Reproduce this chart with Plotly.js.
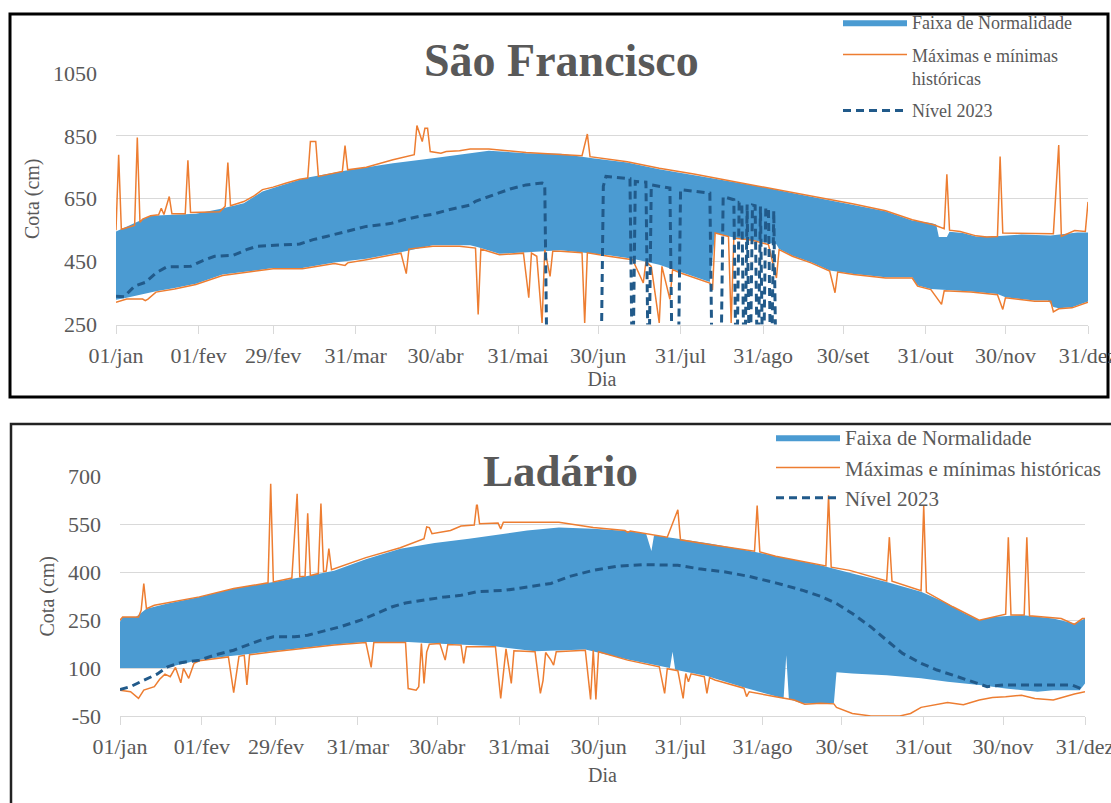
<!DOCTYPE html>
<html>
<head>
<meta charset="utf-8">
<script src="https://cdn.plot.ly/plotly-3.0.1.min.js"></script>
<style>
html,body{margin:0;padding:0;background:#ffffff;}
#chart{width:1111px;height:803px;}
</style>
</head>
<body>
<div id="chart"></div>
<script>
// ---- Axis ticks (day of year, leap year) ----
const tickDays = [1,32,60,91,121,152,182,213,244,274,305,335,366];
const tickLabels = ['01/jan','01/fev','29/fev','31/mar','30/abr','31/mai','30/jun','31/jul','31/ago','30/set','31/out','30/nov','31/dez'];
const sfYTicks = [250,450,650,850,1050];
const ldYTicks = [-50,100,250,400,550,700];

// ---- São Francisco ----
const sfBandHighDay = [1,3,14,31,40,49,56,60,72,89,105,120,134,141,155,168,180,193,205,218,230,243,255,269,278,290,300,307,309,310,313,314,319,324,330,341,352,362,366];
const sfBandHigh    = [546,554,596,602,617,636,673,684,716,742,763,779,795,803,795,793,779,765,744,726,708,689,668,645,631,610,581,573,568,528,528,545,541,530,530,536,533,543,543];
const sfBandLowDay  = [1,5,16,23,31,41,51,60,71,83,95,108,120,134,137,145,154,168,186,195,205,213,224,226,231,240,246,249,250,255,262,269,278,290,300,302,307,322,332,335,346,351,353,355,360,366];
const sfBandLow     = [329,335,356,366,380,409,419,430,430,447,459,480,502,502,496,475,479,486,470,459,440,417,385,541,530,518,509,505,490,469,448,422,411,400,400,374,363,355,347,337,326,326,306,302,305,323];
const sfMaxDay = [1,2,3,8,9,10,11,14,17,18,19,21,22,27,28,29,40,42,43,44,49,53,56,60,65,70,73,74,76,77,86,87,88,95,105,113,114,116,117,118,119,123,125,130,134,141,155,176,178,179,193,205,218,230,243,255,269,278,290,300,308,312,313,314,318,324,328,332,333,334,353,355,356,361,365,366];
const sfMax    = [550,790,553,565,845,575,585,596,599,620,600,657,602,602,772,606,609,626,765,628,641,660,679,687,700,712,716,832,832,721,737,819,742,750,774,790,883,832,874,874,800,795,800,803,808,808,797,787,856,784,768,747,729,710,689,670,647,633,612,583,567,555,728,550,546,532,528,530,784,541,539,821,530,549,546,640];
const sfMinDay = [1,5,11,12,13,16,23,31,41,51,60,71,83,87,88,95,108,110,111,120,130,136,137,138,145,154,156,157,159,161,162,164,165,168,176,177,178,186,195,199,200,202,205,206,209,210,213,224,225,226,231,232,233,240,246,249,250,255,262,269,271,272,278,290,300,302,307,311,312,322,332,334,335,346,352,353,355,360,366];
const sfMin    = [321,331,331,326,331,353,363,377,406,416,427,427,444,438,446,456,477,412,490,499,499,493,282,490,472,477,335,477,467,255,488,403,483,483,478,255,478,467,456,382,450,435,255,435,330,425,414,382,360,541,530,255,525,518,504,398,488,467,446,420,351,417,409,398,398,372,361,314,357,353,345,298,335,324,324,290,300,303,321];
const sfLevelDay = [1,4,8,12,16,20,29,33,38,45,50,54,70,75,80,88,95,104,109,115,120,126,134,136,143,149,155,161,162,163,183,184,185,191,194,195,196,200,201,202,209,210,212,213,224,225,228,229,233,234,235,236,237,238,239,240,241,242,243,244,245,246,247,248,249];
const sfLevel    = [340,338,372,384,414,433,435,451,467,470,488,499,506,520,530,546,562,571,583,594,601,615,630,642,663,681,694,700,697,0,0,690,721,716,714,0,705,703,0,694,684,0,0,679,668,0,0,657,647,0,638,636,0,632,0,630,628,0,625,0,622,618,0,612,0];

// ---- Ladário ----
const ldBandHighDay = [1,2,7,11,19,31,44,57,69,82,94,107,120,133,142,155,167,180,193,200,202,203,212,224,237,249,262,266,278,291,304,314,320,326,331,342,354,362,366];
const ldBandHigh    = [245,260,260,286,302,323,349,366,384,405,441,474,492,505,516,531,540,536,529,521,467,516,505,490,471,450,429,422,396,370,339,302,273,250,260,266,255,240,255];
const ldBandLowDay  = [1,18,31,42,59,69,82,94,110,120,130,142,158,177,193,205,209,210,211,223,237,249,252,253,254,259,271,272,278,291,304,314,326,336,348,354,364,366];
const ldBandLow     = [100,100,125,137,153,163,174,182,182,177,174,169,153,158,127,106,100,151,95,75,39,12,5,140,3,-11,-11,87,83,78,68,57,47,36,26,31,31,52];
const ldMaxDay = [1,2,8,9,10,11,14,31,44,57,58,59,66,68,69,71,72,73,76,77,78,79,80,81,94,107,116,117,118,119,126,130,135,136,137,144,145,146,167,180,192,193,194,208,212,213,224,237,241,242,243,249,262,268,269,270,277,291,292,293,304,305,306,316,326,331,336,337,338,343,344,345,352,357,362,365,366];
const ldMax    = [250,260,260,281,365,286,297,323,349,367,677,370,382,646,386,388,585,390,396,615,402,404,474,408,446,477,505,542,540,521,531,545,548,620,552,554,536,557,557,540,531,525,529,510,596,502,487,471,466,609,464,450,429,420,641,416,406,373,510,372,342,609,338,292,250,260,269,510,266,266,510,264,260,255,237,255,255];
const ldMinDay = [1,5,8,10,14,16,18,20,22,24,25,27,29,31,42,44,46,48,49,50,59,69,82,94,96,97,109,110,113,114,115,116,117,118,122,124,125,130,131,132,143,145,147,149,150,158,160,161,162,164,165,166,177,179,180,181,182,193,205,207,208,212,214,215,216,217,222,223,224,226,237,238,239,249,256,260,266,271,272,278,285,296,300,304,307,314,320,326,331,336,342,347,354,362,366];
const ldMin    = [31,26,5,31,42,65,81,73,102,54,99,68,115,123,135,23,137,140,47,142,151,161,172,180,102,180,180,36,31,42,177,52,150,175,177,125,174,172,115,167,167,5,160,52,154,151,21,61,149,125,109,151,156,2,156,2,151,125,104,21,98,92,5,83,57,82,73,21,70,63,37,11,26,10,0,-13,-10,-12,-23,-42,-50,-50,-42,-23,-19,-8,-15,0,8,10,15,5,0,19,26];
const ldLevelDay = [1,5,10,15,19,24,31,37,44,49,54,59,67,72,79,85,92,98,104,109,115,119,124,130,136,147,155,164,171,180,189,199,212,220,230,239,249,259,266,272,278,285,291,297,304,310,316,322,329,335,342,354,361,366];
const ldLevel    = [33,42,62,81,104,117,125,141,156,172,187,198,198,203,219,231,250,271,292,304,312,318,323,328,339,344,354,365,387,406,419,424,422,411,401,387,367,344,325,302,271,229,187,146,115,94,78,62,42,47,47,47,47,31];

// ---- Style ----
const BLUE = '#4b9bd2', ORANGE = '#ed7d31', NAVY = '#215a8a', GRAY = '#595959', GRID = '#d9d9d9';
const SERIF = 'Liberation Serif, Times New Roman, serif';
const W = 1111, H = 803;
const px = v => v / W, py = v => 1 - v / H;

function bandTraces(lowD, low, highD, high, xa, ya, lg, grp) {
  return [
    {x: lowD, y: low, xaxis: xa, yaxis: ya, mode: 'lines', line: {width: 0, color: BLUE},
     showlegend: false, hoverinfo: 'skip', legend: lg, legendgroup: grp},
    {x: highD, y: high, xaxis: xa, yaxis: ya, mode: 'lines', line: {width: 0, color: BLUE},
     fill: 'tonexty', fillcolor: BLUE, name: 'Faixa de Normalidade', legend: lg, legendgroup: grp,
     hoverinfo: 'skip'}
  ];
}
function lineTrace(d, v, xa, ya, lg, grp, name, show, color, width, dash) {
  return {x: d, y: v, xaxis: xa, yaxis: ya, mode: 'lines', name: name, legend: lg, legendgroup: grp,
          showlegend: show, line: {color: color, width: width, dash: dash || 'solid'}, hoverinfo: 'skip'};
}

const data = [
  ...bandTraces(sfBandLowDay, sfBandLow, sfBandHighDay, sfBandHigh, 'x', 'y', 'legend', 'sfBand'),
  lineTrace(sfMaxDay, sfMax, 'x', 'y', 'legend', 'sfHist', 'Máximas e mínimas<br>históricas', true, ORANGE, 1.5),
  lineTrace(sfMinDay, sfMin, 'x', 'y', 'legend', 'sfHist', 'Mínimas', false, ORANGE, 1.5),
  lineTrace(sfLevelDay, sfLevel, 'x', 'y', 'legend', 'sfLevel', 'Nível 2023', true, NAVY, 3, '8px,5px'),
  ...bandTraces(ldBandLowDay, ldBandLow, ldBandHighDay, ldBandHigh, 'x2', 'y2', 'legend2', 'ldBand'),
  lineTrace(ldMaxDay, ldMax, 'x2', 'y2', 'legend2', 'ldHist', 'Máximas e mínimas históricas', true, ORANGE, 1.5),
  lineTrace(ldMinDay, ldMin, 'x2', 'y2', 'legend2', 'ldHist', 'Mínimas', false, ORANGE, 1.5),
  lineTrace(ldLevelDay, ldLevel, 'x2', 'y2', 'legend2', 'ldLevel', 'Nível 2023', true, NAVY, 3, '8px,5px')
];

const tickFont = {family: SERIF, size: 22, color: GRAY};
function xAxis(dom, anchor, standoff) {
  return {domain: dom, anchor: anchor, range: [1, 366], tickmode: 'array', tickvals: tickDays, ticktext: tickLabels,
          showgrid: false, zeroline: false, showline: true, linecolor: GRID, linewidth: 1,
          ticks: 'outside', ticklen: 8, tickcolor: GRID, tickfont: tickFont, ticklabelstandoff: 3,
          ticklabeloverflow: 'allow',
          title: {text: 'Dia', font: {family: SERIF, size: 20, color: GRAY}, standoff: standoff}, fixedrange: true};
}
function yAxis(dom, anchor, range, ticks) {
  return {domain: dom, anchor: anchor, range: range, tickmode: 'array', tickvals: ticks, ticktext: ticks.map(String),
          showgrid: true, gridcolor: GRID, gridwidth: 1, zeroline: false, showline: false, ticks: '',
          tickfont: tickFont, ticklabelstandoff: 18,
          title: {text: 'Cota (cm)', font: {family: SERIF, size: 20, color: GRAY}, standoff: 8}, fixedrange: true};
}

const layout = {
  width: W, height: H, margin: {l: 0, r: 0, t: 0, b: 0}, autosize: false,
  paper_bgcolor: '#ffffff', plot_bgcolor: '#ffffff',
  font: {family: SERIF, color: GRAY},
  showlegend: true,
  xaxis: xAxis([px(116), px(1088)], 'y', 5),
  yaxis: yAxis([py(324.5), py(73)], 'x', [250, 1050], sfYTicks),
  xaxis2: xAxis([px(120), px(1085)], 'y2', 9),
  yaxis2: yAxis([py(716), py(476.5)], 'x2', [-50, 700], ldYTicks),
  legend: {x: px(838), y: py(4), xanchor: 'left', yanchor: 'top', bgcolor: 'rgba(255,255,255,0)',
           font: {family: SERIF, size: 18, color: GRAY}, itemwidth: 64, valign: 'top',
           traceorder: 'grouped', tracegroupgap: 6},
  legend2: {x: px(771), y: py(417), xanchor: 'left', yanchor: 'top', bgcolor: 'rgba(255,255,255,0)',
            font: {family: SERIF, size: 21, color: GRAY}, itemwidth: 64, valign: 'top',
            traceorder: 'grouped', tracegroupgap: 0},
  annotations: [
    {text: '<b>São Francisco</b>', xref: 'paper', yref: 'paper', x: px(561), y: py(61), showarrow: false,
     xanchor: 'center', yanchor: 'middle', bgcolor: '#ffffff', borderpad: 3,
     font: {family: SERIF, size: 46, color: GRAY}},
    {text: '<b>Ladário</b>', xref: 'paper', yref: 'paper', x: px(560), y: py(471), showarrow: false,
     xanchor: 'center', yanchor: 'middle', bgcolor: '#ffffff', borderpad: 8,
     font: {family: SERIF, size: 45, color: GRAY}}
  ],
  shapes: [
    {type: 'rect', xref: 'paper', yref: 'paper', x0: px(10), x1: px(1108), y0: py(397), y1: py(14),
     line: {color: '#000000', width: 3}, fillcolor: 'rgba(0,0,0,0)', layer: 'below'},
    {type: 'rect', xref: 'paper', yref: 'paper', x0: px(11), x1: px(1125), y0: py(820), y1: py(424),
     line: {color: '#222222', width: 2.5}, fillcolor: 'rgba(0,0,0,0)', layer: 'below'}
  ]
};

Plotly.newPlot('chart', data, layout, {displayModeBar: false, staticPlot: true});
</script>
</body>
</html>
